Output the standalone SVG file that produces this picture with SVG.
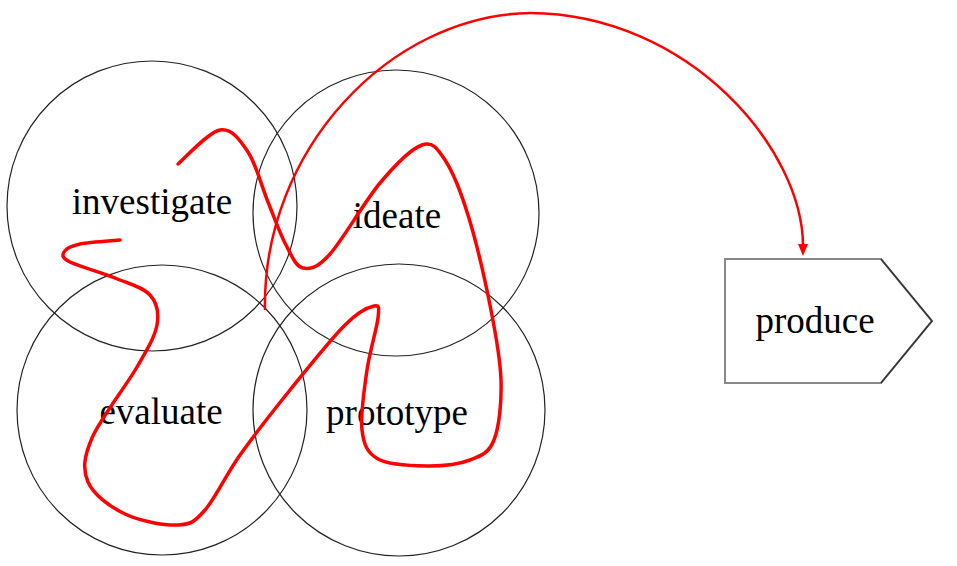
<svg xmlns="http://www.w3.org/2000/svg" width="957" height="566" viewBox="0 0 957 566">
<style>
.c{fill:none;stroke:#222;stroke-width:1.2}
.t{font-family:"Liberation Serif","Times New Roman",serif;font-size:37px;fill:#000;text-anchor:middle}
.r{fill:none;stroke:#f00;stroke-width:3.5;stroke-linecap:round;stroke-linejoin:round}
.a{fill:none;stroke:#f00;stroke-width:2.5}
</style>
<defs>
<marker id="ah" markerUnits="userSpaceOnUse" markerWidth="14" markerHeight="14" refX="2" refY="6" orient="auto">
<path d="M0,1 L12,6 L0,11 Z" fill="#f00"/>
</marker>
</defs>
<rect width="957" height="566" fill="#fff"/>
<g id="investigate"><circle class="c" cx="152" cy="206" r="145"/><text class="t" x="152" y="214">investigate</text></g>
<g id="ideate"><circle class="c" cx="396" cy="213" r="143"/><text class="t" x="397" y="228">ideate</text></g>
<g id="evaluate"><circle class="c" cx="162" cy="410" r="145"/><text class="t" x="161" y="424">evaluate</text></g>
<g id="prototype"><circle class="c" cx="399" cy="410" r="146"/><text class="t" x="397" y="425">prototype</text></g>
<g id="produce">
<polygon points="725,259 881,259 932,321 881,383 725,383" fill="#fff" stroke="#888" stroke-width="2"/>
<polyline points="881,259 932,321 881,383" fill="none" stroke="#333" stroke-width="1.5"/>
<text class="t" x="815" y="333">produce</text>
</g>
<g id="connectors">
<path class="r" d="M178,164 C185,158.3 208.3,132 220,130 C231.7,128 240,140 248,152 C256,164 261.7,186.5 268,202 C274.3,217.5 280.2,234 286,245 C291.8,256 295.7,266.5 303,268 C310.3,269.5 317.2,268.2 330,254 C342.8,239.8 364.7,201.2 380,183 C395.3,164.8 411.2,148.8 422,145 C432.8,141.2 437.3,148.3 445,160 C452.7,171.7 460.5,190.8 468,215 C475.5,239.2 484.5,277.5 490,305 C495.5,332.5 500.3,357.5 501,380 C501.7,402.5 499.2,426.7 494,440 C488.8,453.3 481.2,455.7 470,460 C458.8,464.3 442.3,466.2 427,466 C411.7,465.8 388.8,465 378,459 C367.2,453 363.8,444.8 362,430 C360.2,415.2 364.3,388.7 367,370 C369.7,351.3 376.8,328.7 378,318 C379.2,307.3 379.5,304.8 374,306 C368.5,307.2 359,311 345,325 C331,339 307.5,368.3 290,390 C272.5,411.7 254.2,435 240,455 C225.8,475 215.3,498.3 205,510 C194.7,521.7 191.3,524.3 178,525 C164.7,525.7 140,521.2 125,514 C110,506.8 93.5,494.7 88,482 C82.5,469.3 83.8,457.2 92,438 C100.2,418.8 126.2,385.8 137,367 C147.8,348.2 154.8,337 157,325 C159.2,313 157,302.8 150,295 C143,287.2 128.3,283.5 115,278 C101.7,272.5 78.5,266.3 70,262 C61.5,257.7 62.3,255 64,252 C65.7,249 70.7,246 80,244 C89.3,242 113.3,240.7 120,240"/>
<path class="a" marker-end="url(#ah)" d="M265,310 C262,150 390,15 530,13 C690,14 803,150 803,246"/>
</g>
</svg>
